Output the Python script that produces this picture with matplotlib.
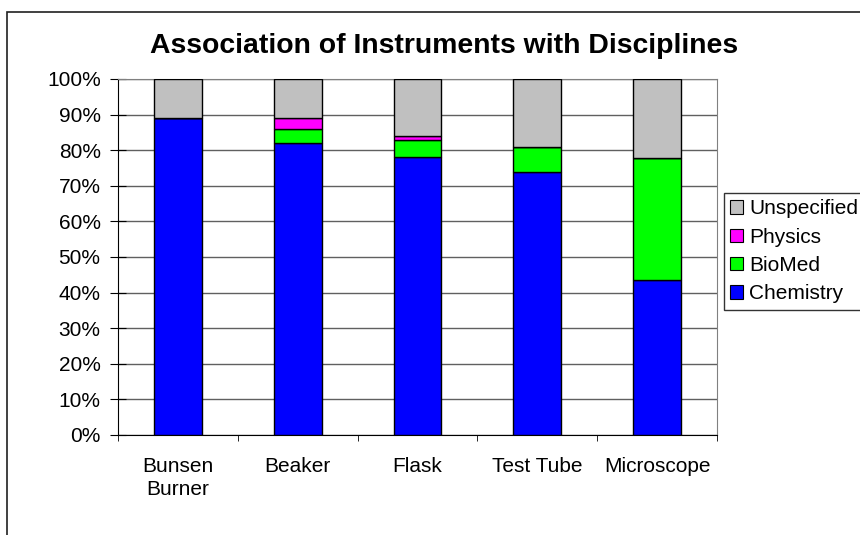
import matplotlib
matplotlib.use("Agg")
import matplotlib.pyplot as plt
from matplotlib.patches import Rectangle, Patch
import numpy as np

plt.rcParams['font.family'] = ['Liberation Sans', 'DejaVu Sans']

categories = ["Bunsen\nBurner", "Beaker", "Flask", "Test Tube", "Microscope"]
chemistry = [89, 82, 78, 74, 43.5]
biomed = [0, 4, 5, 7, 34.3]
physics = [0, 3, 1, 0, 0]
unspecified = [11, 11, 16, 19, 22.2]

series = [("Chemistry", chemistry, "#0000FF"),
          ("BioMed", biomed, "#00FF00"),
          ("Physics", physics, "#FF00FF"),
          ("Unspecified", unspecified, "#C0C0C0")]

W, H = 860, 535
fig = plt.figure(figsize=(W / 100, H / 100), dpi=100)
fig.patches.append(Rectangle((7 / W, -0.1), 2, (H - 12) / H + 0.1,
                             transform=fig.transFigure, fill=False,
                             edgecolor="#202020", linewidth=1.2))

ax = fig.add_axes([118 / W, (H - 435) / H, (717 - 118) / W, (435 - 79) / H])
x = np.arange(len(categories))
bottom = np.zeros(len(categories))
handles = {}
for name, vals, col in series:
    vals = np.array(vals, dtype=float)
    ax.bar(x, vals, width=0.4, bottom=bottom, color=col,
           edgecolor="black", linewidth=1.0, zorder=3)
    bottom += vals
    handles[name] = Patch(facecolor=col, edgecolor="black", linewidth=0.8)

ax.set_xlim(-0.5, len(categories) - 0.5)
ax.set_ylim(0, 100)
ax.set_yticks(np.arange(0, 101, 10))
ax.set_yticklabels([f"{v}%" for v in range(0, 101, 10)], fontsize=15)
ax.yaxis.grid(True, color="#606060", linewidth=1.0, zorder=0)
ax.set_axisbelow(True)
ax.set_xticks(x)
ax.set_xticklabels(categories, fontsize=15, linespacing=1.22)
ax.tick_params(axis="x", length=0, pad=16)
ax.set_xticks(np.arange(-0.5, len(categories), 1), minor=True)
ax.tick_params(axis="x", which="minor", length=4.5, direction="out", color="black")
ax.tick_params(axis="y", length=11, direction="inout", color="black", pad=7)
for s in ["top", "right"]:
    ax.spines[s].set_color("#808080")
for s in ["left", "bottom"]:
    ax.spines[s].set_color("black")

fig.text(444 / W, (H - 46) / H, "Association of Instruments with Disciplines",
         ha="center", va="center", fontsize=20.4, fontweight="bold")

order = ["Unspecified", "Physics", "BioMed", "Chemistry"]
leg = fig.legend([handles[n] for n in order], order,
                 loc="upper left", bbox_to_anchor=(724 / W, (H - 193) / H),
                 fontsize=15, frameon=True, fancybox=False, edgecolor="black",
                 handlelength=0.62, handleheight=0.62, handletextpad=0.3,
                 borderpad=0.3, labelspacing=0.45, borderaxespad=0)
leg.get_frame().set_linewidth(1.0)

fig.savefig("out.png", dpi=100)
